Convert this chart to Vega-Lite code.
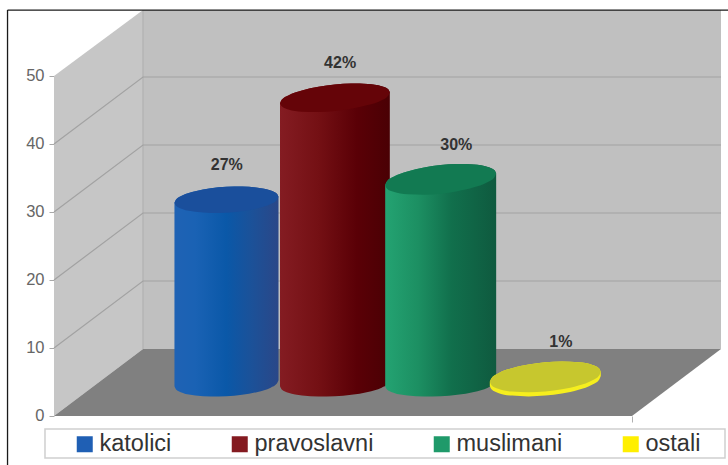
{"$schema":"https://vega.github.io/schema/vega-lite/v6.json","width":728,"height":465,"padding":0,"autosize":{"type":"none"},"background":"#ffffff","config":{"view":{"stroke":null}},
"datasets":{
"values":[{"religion":"katolici","value":27,"labelPos":29.9},{"religion":"pravoslavni","value":42,"labelPos":49.5},{"religion":"muslimani","value":30,"labelPos":69.6},{"religion":"ostali","value":1,"labelPos":87.7}],
"cyl":[
{"r":"katolici","x":20.84,"b":4.36,"c0":31.36,"c1":31.36},{"r":"katolici","x":21.11,"b":3.91,"c0":30.91,"c1":31.84},{"r":"katolici","x":22.19,"b":3.43,"c0":30.43,"c1":32.43},{"r":"katolici","x":24.44,"b":3.02,"c0":30.02,"c1":33.06},{"r":"katolici","x":27.14,"b":2.86,"c0":29.86,"c1":33.48},{"r":"katolici","x":29.84,"b":2.9,"c0":29.9,"c1":33.7},{"r":"katolici","x":32.54,"b":3.12,"c0":30.12,"c1":33.75},{"r":"katolici","x":35.24,"b":3.54,"c0":30.54,"c1":33.58},{"r":"katolici","x":37.49,"b":4.17,"c0":31.17,"c1":33.17},{"r":"katolici","x":38.57,"b":4.77,"c0":31.77,"c1":32.69},{"r":"katolici","x":38.84,"b":5.24,"c0":32.24,"c1":32.24},
{"r":"pravoslavni","x":39.1,"b":4.36,"c0":46,"c1":46},{"r":"pravoslavni","x":39.39,"b":3.91,"c0":45.55,"c1":46.49},{"r":"pravoslavni","x":40.53,"b":3.43,"c0":45.09,"c1":47.15},{"r":"pravoslavni","x":42.9,"b":3.02,"c0":44.76,"c1":47.88},{"r":"pravoslavni","x":45.75,"b":2.86,"c0":44.7,"c1":48.42},{"r":"pravoslavni","x":48.6,"b":2.9,"c0":44.85,"c1":48.75},{"r":"pravoslavni","x":51.45,"b":3.12,"c0":45.18,"c1":48.9},{"r":"pravoslavni","x":54.3,"b":3.54,"c0":45.72,"c1":48.84},{"r":"pravoslavni","x":56.68,"b":4.17,"c0":46.45,"c1":48.51},{"r":"pravoslavni","x":57.82,"b":4.77,"c0":47.11,"c1":48.05},{"r":"pravoslavni","x":58.1,"b":5.24,"c0":47.6,"c1":47.6},
{"r":"muslimani","x":57.3,"b":4.36,"c0":33.95,"c1":33.95},{"r":"muslimani","x":57.59,"b":3.91,"c0":33.47,"c1":34.49},{"r":"muslimani","x":58.74,"b":3.43,"c0":32.97,"c1":35.19},{"r":"muslimani","x":61.14,"b":3.02,"c0":32.61,"c1":35.97},{"r":"muslimani","x":64.02,"b":2.86,"c0":32.55,"c1":36.55},{"r":"muslimani","x":66.9,"b":2.9,"c0":32.7,"c1":36.9},{"r":"muslimani","x":69.78,"b":3.12,"c0":33.06,"c1":37.06},{"r":"muslimani","x":72.66,"b":3.54,"c0":33.63,"c1":36.99},{"r":"muslimani","x":75.06,"b":4.17,"c0":34.41,"c1":36.63},{"r":"muslimani","x":76.21,"b":4.77,"c0":35.11,"c1":36.13},{"r":"muslimani","x":76.5,"b":5.24,"c0":35.65,"c1":35.65},
{"r":"ostali","x":75.4,"b":4.42,"c0":5.02,"c1":5.02},{"r":"ostali","x":75.69,"b":3.92,"c0":4.52,"c1":5.56},{"r":"ostali","x":76.84,"b":3.4,"c0":4,"c1":6.26},{"r":"ostali","x":79.24,"b":3,"c0":3.59,"c1":7.03},{"r":"ostali","x":82.12,"b":2.88,"c0":3.48,"c1":7.58},{"r":"ostali","x":85,"b":3,"c0":3.6,"c1":7.9},{"r":"ostali","x":87.88,"b":3.32,"c0":3.92,"c1":8.02},{"r":"ostali","x":90.76,"b":3.87,"c0":4.47,"c1":7.91},{"r":"ostali","x":93.16,"b":4.64,"c0":5.24,"c1":7.5},{"r":"ostali","x":94.31,"b":5.34,"c0":5.94,"c1":6.98},{"r":"ostali","x":94.6,"b":5.88,"c0":6.48,"c1":6.48}],
"grid":[
{"g":10,"x":0,"y":10},{"g":10,"x":15.4,"y":19.85},{"g":10,"x":115.4,"y":19.85},
{"g":20,"x":0,"y":20},{"g":20,"x":15.4,"y":29.85},{"g":20,"x":115.4,"y":29.85},
{"g":30,"x":0,"y":30},{"g":30,"x":15.4,"y":39.85},{"g":30,"x":115.4,"y":39.85},
{"g":40,"x":0,"y":40},{"g":40,"x":15.4,"y":49.85},{"g":40,"x":115.4,"y":49.85}],
"frame":[{"x":-8.04,"x2":116.61,"y":59.7,"y2":59.7},{"x":-8.04,"x2":-8.04,"y":59.7,"y2":-7.2}]
},
"layer":[
{"data":{"values":[{"x":0,"lo":0,"hi":50},{"x":15.4,"lo":9.85,"hi":59.7}]},"mark":{"type":"area","color":"#c6c6c6"},"encoding":{
"x":{"field":"x","type":"quantitative","scale":{"domain":[-9.343,116.609],"nice":false,"zero":false},"axis":{"values":[100],"labels":false,"title":null,"domain":false,"grid":false,"tickColor":"#b0b0b0","tickSize":6,"offset":-49}},
"y":{"field":"lo","type":"quantitative","scale":{"domain":[-7.206,61.176],"nice":false,"zero":false},"axis":{"values":[0,10,20,30,40,50],"title":null,"domain":false,"grid":false,"tickColor":"#a8a8a8","tickSize":5,"labelPadding":5,"labelColor":"#666666","labelFont":"Liberation Sans","labelFontSize":16.5,"offset":-54}},
"y2":{"field":"hi"}}},
{"data":{"values":[{"x":15.4,"lo":9.85,"hi":59.7},{"x":115.4,"lo":9.85,"hi":59.7}]},"mark":{"type":"area","color":"#c0c0c0"},"encoding":{"x":{"field":"x","type":"quantitative"},"y":{"field":"lo","type":"quantitative"},"y2":{"field":"hi"}}},
{"data":{"values":[{"x":15.4,"y":9.85,"y2":59.7}]},"mark":{"type":"rule","color":"#adadad","strokeWidth":1},"encoding":{"x":{"field":"x","type":"quantitative"},"y":{"field":"y","type":"quantitative"},"y2":{"field":"y2"}}},
{"data":{"name":"grid"},"mark":{"type":"line","color":"#a2a2a2","strokeWidth":1.2},"encoding":{"x":{"field":"x","type":"quantitative"},"y":{"field":"y","type":"quantitative"},"detail":{"field":"g"}}},
{"data":{"values":[{"x":0,"lo":0,"hi":0},{"x":15.4,"lo":0,"hi":9.85},{"x":100,"lo":0,"hi":9.85},{"x":115.4,"lo":9.85,"hi":9.85}]},"mark":{"type":"area","color":"#808080"},"encoding":{"x":{"field":"x","type":"quantitative"},"y":{"field":"lo","type":"quantitative"},"y2":{"field":"hi"}}},
{"data":{"name":"cyl"},"transform":[{"filter":"datum.r==='katolici'"}],"mark":{"type":"area","interpolate":"monotone","color":{"gradient":"linear","x1":0,"x2":1,"y1":0,"y2":0,"stops":[{"offset":0,"color":"#1f62b4"},{"offset":0.2,"color":"#1a62b4"},{"offset":0.5,"color":"#0a58a8"},{"offset":0.75,"color":"#1c5198"},{"offset":1,"color":"#2a4788"}]}},"encoding":{"x":{"field":"x","type":"quantitative"},"y":{"field":"b","type":"quantitative"},"y2":{"field":"c1"}}},
{"data":{"name":"cyl"},"transform":[{"filter":"datum.r==='katolici'"}],"mark":{"type":"area","interpolate":"monotone","color":"#1a4f9c"},"encoding":{"x":{"field":"x","type":"quantitative"},"y":{"field":"c0","type":"quantitative"},"y2":{"field":"c1"}}},
{"data":{"name":"cyl"},"transform":[{"filter":"datum.r==='pravoslavni'"}],"mark":{"type":"area","interpolate":"monotone","color":{"gradient":"linear","x1":0,"x2":1,"y1":0,"y2":0,"stops":[{"offset":0,"color":"#841c22"},{"offset":0.35,"color":"#741014"},{"offset":0.7,"color":"#5a0006"},{"offset":1,"color":"#4a0004"}]}},"encoding":{"x":{"field":"x","type":"quantitative"},"y":{"field":"b","type":"quantitative"},"y2":{"field":"c1"}}},
{"data":{"name":"cyl"},"transform":[{"filter":"datum.r==='pravoslavni'"}],"mark":{"type":"area","interpolate":"monotone","color":"#650408"},"encoding":{"x":{"field":"x","type":"quantitative"},"y":{"field":"c0","type":"quantitative"},"y2":{"field":"c1"}}},
{"data":{"name":"cyl"},"transform":[{"filter":"datum.r==='muslimani'"}],"mark":{"type":"area","interpolate":"monotone","color":{"gradient":"linear","x1":0,"x2":1,"y1":0,"y2":0,"stops":[{"offset":0,"color":"#24a372"},{"offset":0.3,"color":"#1c8f62"},{"offset":0.6,"color":"#116f4c"},{"offset":1,"color":"#0f5a3f"}]}},"encoding":{"x":{"field":"x","type":"quantitative"},"y":{"field":"b","type":"quantitative"},"y2":{"field":"c1"}}},
{"data":{"name":"cyl"},"transform":[{"filter":"datum.r==='muslimani'"}],"mark":{"type":"area","interpolate":"monotone","color":"#127a52"},"encoding":{"x":{"field":"x","type":"quantitative"},"y":{"field":"c0","type":"quantitative"},"y2":{"field":"c1"}}},
{"data":{"name":"cyl"},"transform":[{"filter":"datum.r==='ostali'"}],"mark":{"type":"area","interpolate":"monotone","color":"#f6ee1e"},"encoding":{"x":{"field":"x","type":"quantitative"},"y":{"field":"b","type":"quantitative"},"y2":{"field":"c1"}}},
{"data":{"name":"cyl"},"transform":[{"filter":"datum.r==='ostali'"}],"mark":{"type":"area","interpolate":"monotone","color":"#c7c72e"},"encoding":{"x":{"field":"x","type":"quantitative"},"y":{"field":"c0","type":"quantitative"},"y2":{"field":"c1"}}},
{"data":{"values":[{"x":-1.56,"x2":116.09,"y":-1.91,"y2":-6.18}]},"mark":{"type":"rect","fill":"#ffffff","stroke":"#cfcfcf","strokeWidth":1.5},"encoding":{"x":{"field":"x","type":"quantitative"},"x2":{"field":"x2"},"y":{"field":"y","type":"quantitative"},"y2":{"field":"y2"}}},
{"data":{"name":"frame"},"mark":{"type":"rule","color":"#1a1a1a","strokeWidth":1.3},"encoding":{"x":{"field":"x","type":"quantitative"},"x2":{"field":"x2"},"y":{"field":"y","type":"quantitative"},"y2":{"field":"y2"}}},
{"data":{"name":"values"},"mark":{"type":"text","dy":-67,"font":"Liberation Sans","fontSize":16,"fontWeight":"bold","color":"#333333","align":"center","baseline":"middle"},"encoding":{"x":{"field":"labelPos","type":"quantitative"},"y":{"field":"value","type":"quantitative"},"text":{"field":"label","type":"nominal"}},"transform":[{"calculate":"datum.value+'%'","as":"label"}]},
{"data":{"name":"values"},"mark":{"type":"point","opacity":0,"filled":true},"encoding":{"x":{"field":"labelPos","type":"quantitative"},"y":{"field":"value","type":"quantitative"},"color":{"field":"religion","type":"nominal","scale":{"domain":["katolici","pravoslavni","muslimani","ostali"],"range":["#1f5fb4","#841a20","#1f9a6a","#ffef00"]},"legend":{"title":null,"orient":"none","legendX":73,"legendY":433,"direction":"horizontal","columns":4,"symbolType":"square","symbolSize":256,"symbolOpacity":1,"symbolStrokeWidth":0,"labelFont":"Liberation Sans","labelFontSize":23.5,"labelColor":"#333333","labelOffset":3,"columnPadding":56,"padding":0,"clipHeight":22}}}}
]}
